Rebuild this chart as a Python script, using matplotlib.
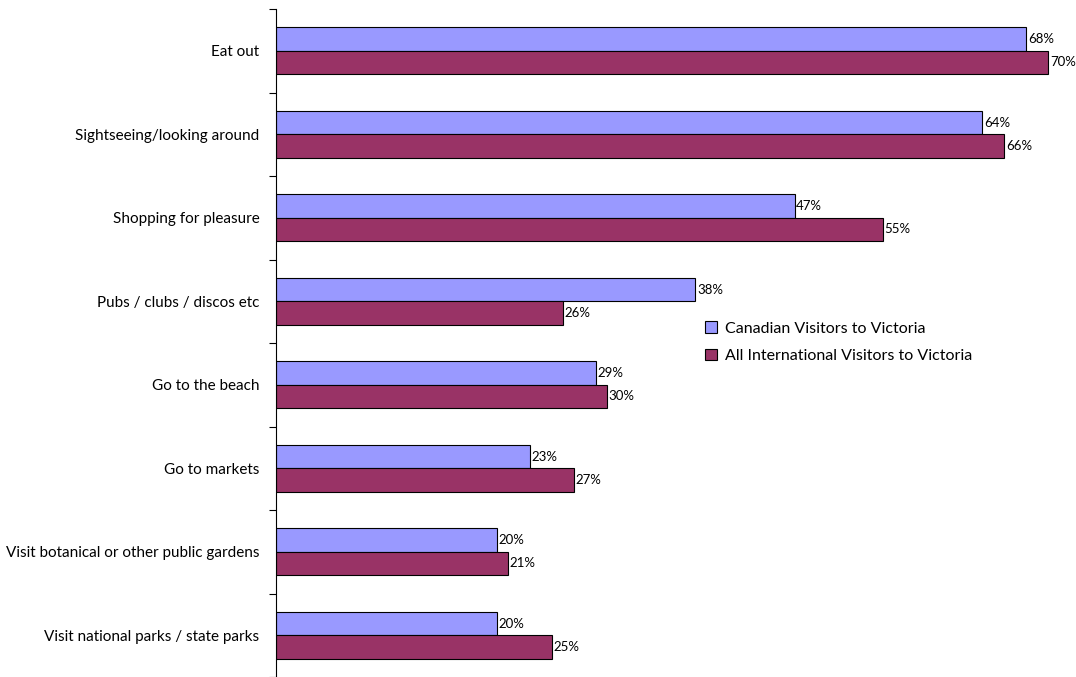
import matplotlib.pyplot as plt
import numpy as np

categories = ["Eat out", "Sightseeing/looking around", "Shopping for pleasure",
              "Pubs / clubs / discos etc", "Go to the beach", "Go to markets",
              "Visit botanical or other public gardens", "Visit national parks / state parks"]
canadian = [68, 64, 47, 38, 29, 23, 20, 20]
international = [70, 66, 55, 26, 30, 27, 21, 25]
series_names = ["Canadian Visitors to Victoria", "All International Visitors to Victoria"]

plt.rcParams['font.family'] = ['Lato', 'DejaVu Sans']

fig = plt.figure(figsize=(10.76, 6.77), dpi=100)
ax = fig.add_axes([276/1076, 0, 800/1076, 668/677])

y = np.arange(len(categories))
h = 0.28
b1 = ax.barh(y - h/2, canadian, h, color='#9999FF', edgecolor='black', linewidth=0.8, label=series_names[0])
b2 = ax.barh(y + h/2, international, h, color='#993366', edgecolor='black', linewidth=0.8, label=series_names[1])

for bars, vals in [(b1, canadian), (b2, international)]:
    for bar, v in zip(bars, vals):
        ax.text(bar.get_width() + 0.15, bar.get_y() + bar.get_height()/2, f"{v}%",
                va='center', ha='left', fontsize=9.5)

ax.set_xlim(0, 72.5)
ax.set_ylim(len(categories) - 0.5, -0.5)
ax.set_yticks(y)
ax.set_yticklabels(categories, fontsize=11)
ax.tick_params(axis='y', which='major', length=0, pad=12)
ax.set_yticks(np.arange(-0.5, len(categories) + 0.5, 1), minor=True)
ax.tick_params(axis='y', which='minor', length=5, width=0.8)
ax.set_xticks([])
for s in ['top', 'right', 'bottom']:
    ax.spines[s].set_visible(False)
ax.spines['left'].set_linewidth(0.8)

ax.legend(loc='upper left', bbox_to_anchor=(415/800, 1 - 298/668), frameon=False,
          fontsize=11.5, handlelength=0.7, handleheight=0.7, labelspacing=0.85, handletextpad=0.5)

fig.savefig("out.png", dpi=100)
